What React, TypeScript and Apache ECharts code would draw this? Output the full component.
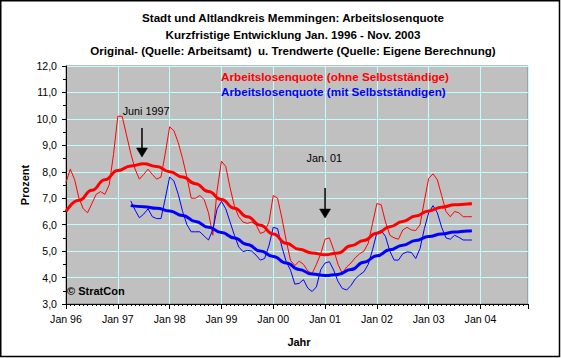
import React, { useEffect, useRef } from "react";
import * as echarts from "echarts";

const FONT = "'Liberation Sans', Arial, sans-serif";

const titleLines = [
  "Stadt und Altlandkreis Memmingen: Arbeitslosenquote",
  "Kurzfristige Entwicklung Jan. 1996 - Nov. 2003",
  "Original- (Quelle: Arbeitsamt)  u. Trendwerte (Quelle: Eigene Berechnung)",
];

const legendRed = "Arbeitslosenquote (ohne Selbstständige)";
const legendBlue = "Arbeitslosenquote (mit Selbstständigen)";

// month index 0 = Jan 1996
const firstYear = 96;
const xMax = 107; // Dec 2004

// Original values (ohne Selbstständige), Jan 96 – Nov 03
const redRaw = [
  7.6, 8.1, 7.7, 7.0, 6.6, 6.45, 6.8, 7.15, 7.25, 7.15, 7.5, 8.65,
  10.1, 10.1, 9.4, 8.7, 8.1, 7.72, 7.9, 8.1, 7.9, 7.72, 7.8, 8.7,
  9.7, 9.55, 9.1, 8.5, 7.8, 7.0, 7.0, 7.1, 6.95, 6.45, 5.6, 7.3,
  8.4, 8.2, 7.4, 6.7, 6.3, 6.1, 6.05, 6.1, 6.0, 5.67, 5.73, 6.1,
  7.1, 7.0, 6.25, 5.4, 4.65, 4.45, 4.62, 4.5, 4.25, 4.15, 4.5, 4.9,
  5.45, 5.5, 5.05, 4.5, 4.15, 4.4, 4.55, 4.75, 4.9, 5.0, 5.3, 6.05,
  6.8, 6.75, 6.1, 5.6, 5.5, 5.45, 5.8, 5.9, 5.8, 5.78, 6.0, 6.9,
  7.75, 7.92, 7.7, 7.1, 6.5, 6.3, 6.5, 6.45, 6.3, 6.3, 6.3,
];

// Original values (mit Selbstständigen), Apr 97 – Nov 03
const blueStart = 15;
const blueRaw = [
  6.9, 6.55, 6.26, 6.4, 6.6, 6.3, 6.23, 6.23, 7.0,
  7.8, 7.65, 7.15, 6.5, 6.0, 5.73, 5.73, 5.73, 5.57, 5.42, 5.8, 6.6,
  6.88, 6.6, 6.1, 5.6, 5.16, 4.98, 5.03, 5.0, 4.85, 4.66, 4.72, 5.2,
  5.9, 5.85, 5.16, 4.6, 4.28, 3.75, 3.78, 3.92, 3.6, 3.47, 3.65, 4.3,
  4.55, 4.6, 4.28, 3.85, 3.59, 3.53, 3.7, 3.95, 4.1, 4.22, 4.5, 5.05,
  5.7, 5.78, 5.55, 5.0, 4.66, 4.66, 4.9, 4.97, 4.95, 4.72, 5.1, 5.85,
  6.45, 6.72, 6.45, 5.9, 5.5, 5.45, 5.6, 5.52, 5.42, 5.42, 5.42,
];

// Trend values (read quarterly)
const redTrendMonths = [0, 3, 6, 9, 12, 15, 18, 21, 24, 27, 30, 33, 36, 39, 42, 45, 48, 51, 54, 57, 60, 63, 66, 69, 72, 75, 78, 81, 84, 87, 90, 93, 94];
const redTrendValues = [6.5, 6.92, 7.3, 7.7, 8.05, 8.22, 8.3, 8.2, 8.0, 7.8, 7.55, 7.25, 6.95, 6.62, 6.3, 5.98, 5.65, 5.3, 5.07, 4.93, 4.86, 4.93, 5.2, 5.4, 5.68, 5.92, 6.12, 6.33, 6.52, 6.66, 6.75, 6.78, 6.8];

const blueTrendMonths = [15, 18, 21, 24, 27, 30, 33, 36, 39, 42, 45, 48, 51, 54, 57, 60, 63, 66, 69, 72, 75, 78, 81, 84, 87, 90, 93, 94];
const blueTrendValues = [6.72, 6.68, 6.62, 6.52, 6.35, 6.12, 5.9, 5.7, 5.5, 5.25, 5.0, 4.8, 4.55, 4.3, 4.13, 4.08, 4.12, 4.3, 4.58, 4.82, 5.05, 5.22, 5.4, 5.55, 5.65, 5.72, 5.76, 5.77];

// Annotations (data coordinates)
const annotations = [
  { label: "Juni 1997", textX: 18.55, textY: 10.3, arrowX: 17.6, arrowTop: 9.66, arrowTip: 8.56 },
  { label: "Jan. 01", textX: 59.8, textY: 8.52, arrowX: 60.0, arrowTop: 7.39, arrowTip: 6.25 },
];

export default function App() {
  const ref = useRef<HTMLDivElement>(null);

  useEffect(() => {
    if (!ref.current) return;
    const chart = echarts.init(ref.current, null, { renderer: "svg" });

    const option: any = {
      animation: false,
      backgroundColor: "#ffffff",
      grid: {
        left: 66,
        right: 33,
        top: 66,
        bottom: 54,
        show: true,
        backgroundColor: "#c0c0c0",
        borderColor: "#808080",
        borderWidth: 1,
      },
      xAxis: {
        type: "value",
        min: 0,
        max: xMax,
        interval: 12,
        axisLine: { show: true, onZero: false, lineStyle: { color: "#000", width: 1 } },
        axisTick: { show: true, length: 5, lineStyle: { color: "#000" } },
        minorTick: { show: true, splitNumber: 12, length: 2, lineStyle: { color: "#000" } },
        splitLine: { show: true, lineStyle: { color: "#c0ffff", width: 1 } },
        axisLabel: {
          fontFamily: FONT,
          fontSize: 10.6,
          color: "#000",
          margin: 9,
          showMaxLabel: false,
          formatter: (v: number) =>
            "Jan " + String((firstYear + Math.round(v / 12)) % 100).padStart(2, "0"),
        },
      },
      yAxis: {
        type: "value",
        min: 3,
        max: 12,
        interval: 1,
        axisLine: { show: true, lineStyle: { color: "#000", width: 1 } },
        axisTick: { show: true, length: 4, lineStyle: { color: "#000" } },
        minorTick: { show: true, splitNumber: 2, length: 3, lineStyle: { color: "#000" } },
        splitLine: { show: true, lineStyle: { color: "#c0ffff", width: 1 } },
        axisLabel: {
          fontFamily: FONT,
          fontSize: 10.6,
          color: "#000",
          margin: 9,
          formatter: (v: number) => v.toFixed(1).replace(".", ","),
        },
      },
      series: [
        {
          type: "line",
          name: legendRed,
          data: redRaw.map((v, i) => [i, v]),
          symbol: "none",
          lineStyle: { color: "#ff0000", width: 1 },
          z: 2,
          silent: true,
        },
        {
          type: "line",
          name: legendBlue,
          data: blueRaw.map((v, i) => [blueStart + i, v]),
          symbol: "none",
          lineStyle: { color: "#0000ff", width: 1 },
          z: 3,
          silent: true,
        },
        {
          type: "line",
          name: "Trend rot",
          data: redTrendMonths.map((m, i) => [m, redTrendValues[i]]),
          symbol: "none",
          smooth: true,
          smoothMonotone: "x",
          lineStyle: { color: "#ff0000", width: 3 },
          z: 4,
          silent: true,
        },
        {
          type: "line",
          name: "Trend blau",
          data: blueTrendMonths.map((m, i) => [m, blueTrendValues[i]]),
          symbol: "none",
          smooth: true,
          smoothMonotone: "x",
          lineStyle: { color: "#0000ff", width: 3 },
          z: 5,
          silent: true,
        },
      ],
    };

    chart.setOption(option);

    const px = (x: number, y: number) =>
      chart.convertToPixel({ xAxisIndex: 0, yAxisIndex: 0 }, [x, y]) as number[];

    const graphics: any[] = [
      {
        type: "rect",
        silent: true,
        shape: { x: 0.75, y: 0.75, width: 558.75, height: 355.75 },
        style: { fill: "none", stroke: "#000", lineWidth: 1.5 },
      },
    ];

    titleLines.forEach((t, i) => {
      graphics.push({
        type: "text",
        silent: true,
        x: 293,
        y: 17.5 + i * 16.5,
        style: {
          text: t,
          fontFamily: FONT,
          fontSize: 11.6,
          fontWeight: "bold",
          fill: "#000",
          align: "center",
          verticalAlign: "middle",
        },
      });
    });

    [legendRed, legendBlue].forEach((t, i) => {
      graphics.push({
        type: "text",
        silent: true,
        x: 221,
        y: 76 + i * 15,
        z: 10,
        style: {
          text: t,
          fontFamily: FONT,
          fontSize: 11.7,
          fontWeight: "bold",
          fill: i === 0 ? "#ff0000" : "#0000ff",
          align: "left",
          verticalAlign: "middle",
        },
      });
    });

    graphics.push({
      type: "text",
      silent: true,
      x: 24.5,
      y: 185,
      rotation: Math.PI / 2,
      style: {
        text: "Prozent",
        fontFamily: FONT,
        fontSize: 11,
        fontWeight: "bold",
        fill: "#000",
        align: "center",
        verticalAlign: "middle",
      },
    });

    graphics.push({
      type: "text",
      silent: true,
      x: 299,
      y: 342,
      style: {
        text: "Jahr",
        fontFamily: FONT,
        fontSize: 11,
        fontWeight: "bold",
        fill: "#000",
        align: "center",
        verticalAlign: "middle",
      },
    });

    graphics.push({
      type: "text",
      silent: true,
      x: 67,
      y: 290.5,
      z: 10,
      style: {
        text: "© StratCon",
        fontFamily: FONT,
        fontSize: 11,
        fontWeight: "bold",
        fill: "#000",
        align: "left",
        verticalAlign: "middle",
      },
    });

    annotations.forEach((a) => {
      const tp = px(a.textX, a.textY);
      const top = px(a.arrowX, a.arrowTop);
      const tip = px(a.arrowX, a.arrowTip);
      graphics.push({
        type: "text",
        silent: true,
        x: tp[0],
        y: tp[1],
        z: 10,
        style: {
          text: a.label,
          fontFamily: FONT,
          fontSize: 10.8,
          fill: "#000",
          align: "center",
          verticalAlign: "middle",
        },
      });
      graphics.push({
        type: "line",
        silent: true,
        z: 10,
        shape: { x1: top[0], y1: top[1], x2: tip[0], y2: tip[1] - 8 },
        style: { stroke: "#000", lineWidth: 1.5 },
      });
      graphics.push({
        type: "polygon",
        silent: true,
        z: 10,
        shape: {
          points: [
            [tip[0] - 5.5, tip[1] - 9],
            [tip[0] + 5.5, tip[1] - 9],
            [tip[0], tip[1]],
          ],
        },
        style: { fill: "#000", stroke: "#000", lineWidth: 0.5 },
      });
    });

    chart.setOption({ graphic: graphics });

    return () => chart.dispose();
  }, []);

  return (
    <div
      ref={ref}
      style={{ position: "absolute", left: 0, top: 0, width: 561, height: 358 }}
    />
  );
}
